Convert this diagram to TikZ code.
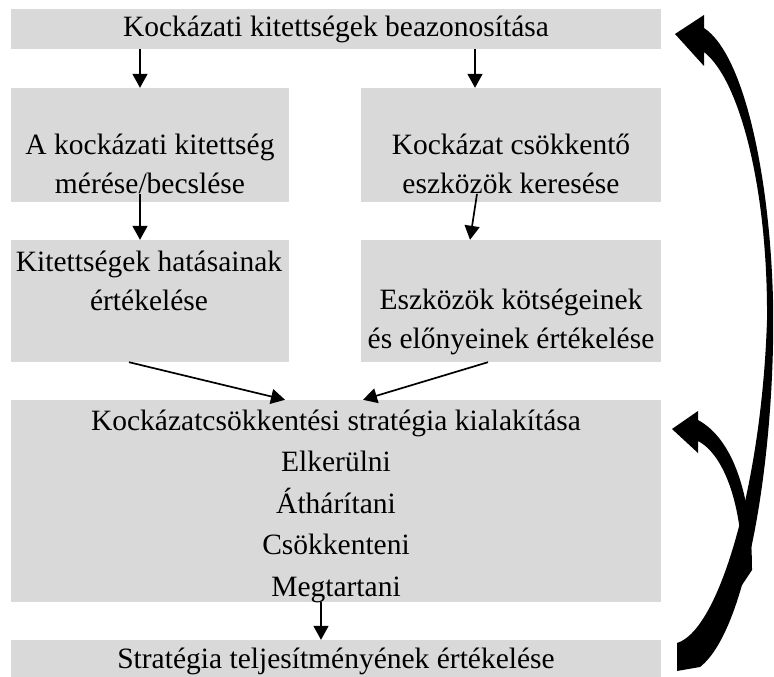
\documentclass[tikz,border=0pt]{standalone}
\usepackage{fontspec}
\setmainfont{Liberation Serif}
\usetikzlibrary{arrows.meta,positioning,calc}
\definecolor{boxgray}{RGB}{217,217,217}

\begin{document}
\begin{tikzpicture}[
    x=1pt, y=-1pt,
    font=\fontsize{29.5}{38.5}\selectfont,
    % Node styles
    box/.style={fill=boxgray, draw=none, inner sep=0pt},
    lbl/.style={align=center, inner sep=0pt},
    arrow/.style={-{Triangle[width=15pt,length=14pt]}, line width=1.7pt},
]
    \useasboundingbox (0,0) rectangle (774,677);

    % Boxes
    \node[box, minimum width=650pt, minimum height=40pt] (top) at (336,29) {};
    \node[box, minimum width=278pt, minimum height=114pt] (lt1) at (150,145) {};
    \node[box, minimum width=300pt, minimum height=114pt] (rt1) at (511,145) {};
    \node[box, minimum width=278pt, minimum height=122pt] (lt2) at (150,301) {};
    \node[box, minimum width=300pt, minimum height=122pt] (rt2) at (511,301) {};
    \node[box, minimum width=650pt, minimum height=202pt] (mid) at (336,501) {};
    \node[box, minimum width=650pt, minimum height=50pt] (bot) at (336,665) {};

    % Texts
    \node[lbl] (topt) at (336,29) {Kockázati kitettségek beazonosítása};
    \node[lbl] (lt1t) at (150,164) {A kockázati kitettség\\mérése/becslése};
    \node[lbl] (rt1t) at (511,164) {Kockázat csökkentő\\eszközök keresése};
    \node[lbl] (lt2t) at (149,281) {Kitettségek hatásainak\\értékelése};
    \node[lbl] (rt2t) at (511,322) {Eszközök kötségeinek\\és előnyeinek értékelése};
    \node[lbl, font=\fontsize{29.5}{41.5}\selectfont] (midt) at (336,506)
        {Kockázatcsökkentési stratégia kialakítása\\Elkerülni\\Áthárítani\\Csökkenteni\\Megtartani};
    \node[lbl] (bott) at (336,661) {Stratégia teljesítményének értékelése};

    % Connections
    \draw[arrow] ([xshift=-10pt]lt1.north |- top.south) -- ([xshift=-10pt]lt1.north);
    \draw[arrow] ([xshift=-36pt]rt1.north |- top.south) -- ([xshift=-36pt]rt1.north);
    \draw[arrow] ([xshift=-10pt]lt1t.south) -- ([xshift=-10pt]lt2.north);
    \draw[arrow] ([xshift=-34pt]rt1t.south) -- ([xshift=-41pt]rt2.north);
    \draw[arrow] ([xshift=-21pt]lt2.south) -- ([xshift=-51pt]mid.north);
    \draw[arrow] ([xshift=-23pt]rt2.south) -- ([xshift=27pt]mid.north);
    \draw[arrow] ([xshift=-15pt]mid.south) -- ([xshift=-15pt]bot.north);

    % Feedback arrows
    \fill (675,34) -- (704,15) -- (704,28)
        .. controls (745,55) and (770,180) .. (773,300)
        .. controls (776,440) and (750,628) .. (700,667)
        -- (677,671) -- (677,643)
        .. controls (720,630) and (762,480) .. (767,320)
        .. controls (768,190) and (740,80) .. (704,52)
        -- (704,66) -- cycle;
    \fill (672,429) -- (698,411) -- (698,420)
        .. controls (735,440) and (752,500) .. (752,570)
        -- (742,585)
        .. controls (745,510) and (725,455) .. (698,441)
        -- (698,453) -- cycle;
\end{tikzpicture}
\end{document}
